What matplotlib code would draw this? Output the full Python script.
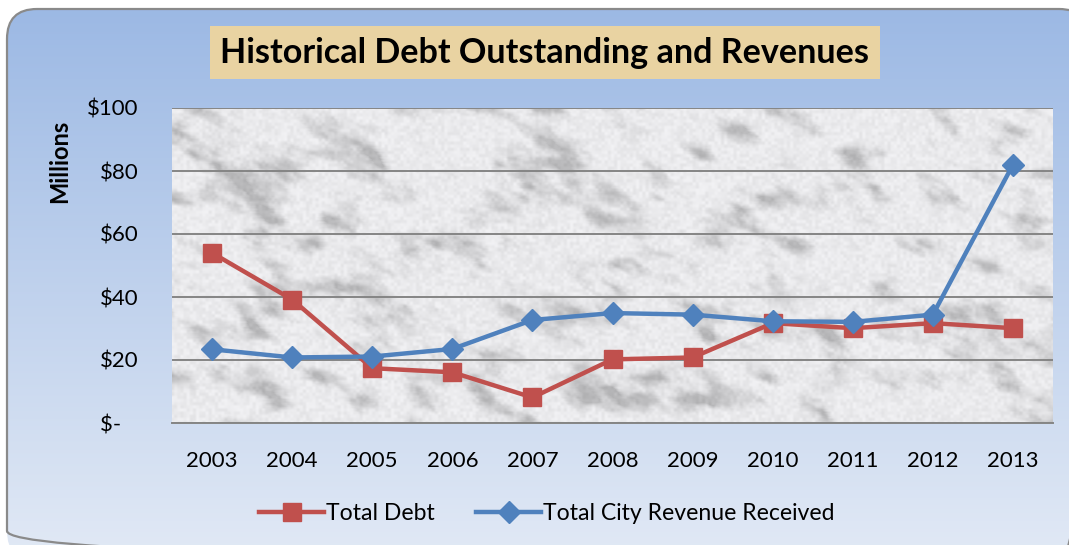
import numpy as np
import matplotlib.pyplot as plt
from matplotlib.patches import FancyBboxPatch, Rectangle

plt.rcParams['font.family'] = ['Lato', 'DejaVu Sans']

years = ['2003', '2004', '2005', '2006', '2007', '2008',
         '2009', '2010', '2011', '2012', '2013']
total_debt = [54.0, 39.2, 17.4, 16.1, 8.1, 20.2, 20.8, 31.7, 30.1, 31.7, 30.1]
city_revenue = [23.4, 20.8, 21.1, 23.5, 32.7, 34.9, 34.4, 32.3, 32.1, 34.4, 82.0]
y_ticks = [0, 20, 40, 60, 80, 100]
y_tick_labels = ['$-   ', '$20', '$40', '$60', '$80', '$100']

W, H = 1069, 545
fig = plt.figure(figsize=(W / 100, H / 100), dpi=100)

# full-figure axes in pixel units for the panel background
bg = fig.add_axes([0, 0, 1, 1])
bg.set_xlim(0, W)
bg.set_ylim(H, 0)
bg.axis('off')

panel = FancyBboxPatch((7, 9), 1082, 552, boxstyle='round,pad=0,rounding_size=30',
                       facecolor='none', edgecolor='#8a8a8a', lw=1.6, zorder=3)
bg.add_patch(panel)
grad = np.linspace(0, 1, 256)[:, None]
top = np.array([0.608, 0.722, 0.894])
bot = np.array([0.878, 0.910, 0.960])
img = top + (bot - top) * grad[..., None]
im = bg.imshow(np.repeat(img, 2, axis=1), extent=[0, W, H, 0], aspect='auto', zorder=1)
im.set_clip_path(panel)

# title plate
bg.add_patch(Rectangle((210, 26), 670, 53, facecolor='#e9d3a2', edgecolor='none', zorder=4))
bg.text(544, 53, 'Historical Debt Outstanding and Revenues', fontsize=24.6,
        fontweight='bold', ha='center', va='center', zorder=5)
bg.text(60, 161, 'Millions', fontsize=17, fontweight='bold', rotation=90,
        ha='center', va='center', zorder=5)


def smooth_noise(rng, shape, cells):
    ny, nx = shape
    gy, gx = cells
    coarse = rng.random((gy + 2, gx + 2))
    yy = np.linspace(0, gy, ny)
    xx = np.linspace(0, gx, nx)
    y0 = yy.astype(int)
    x0 = xx.astype(int)
    fy = (yy - y0)[:, None]
    fx = (xx - x0)[None, :]
    fy = fy * fy * (3 - 2 * fy)
    fx = fx * fx * (3 - 2 * fx)
    a = coarse[np.ix_(y0, x0)]
    b = coarse[np.ix_(y0, x0 + 1)]
    c = coarse[np.ix_(y0 + 1, x0)]
    d = coarse[np.ix_(y0 + 1, x0 + 1)]
    return (a * (1 - fx) + b * fx) * (1 - fy) + (c * (1 - fx) + d * fx) * fy


# mottled marble fill for the plot area, streaked on a diagonal
rng = np.random.default_rng(11)
th, tw = 315, 881
big_w = tw + th
turb = sum(smooth_noise(rng, (th, big_w), (14 * k, 40 * k)) / k for k in (1, 2, 4))
turb = (turb - turb.min()) / (turb.max() - turb.min())
rows = np.arange(th)[:, None]
cols = (np.arange(tw)[None, :] + (th - rows) * 0.7).astype(int)
sheared = turb[rows, cols]
blotch = np.clip((sheared - 0.45) * 2.6, 0, 1)
fine = smooth_noise(rng, (th, tw), (100, 280))
shade = 0.95 - 0.20 * blotch ** 1.6 - 0.06 * fine
marble = np.clip(np.dstack([shade, shade, shade * 1.01]), 0, 1)

ax = fig.add_axes([172 / W, 1 - 423 / H, 881 / W, 315 / H])
ax.patch.set_alpha(0)
ax.imshow(marble, extent=[-0.5, 10.5, 0, 100], aspect='auto', zorder=0)

x = np.arange(len(years))
ax.plot(x, total_debt, color='#c0504d', lw=3.2, marker='s', ms=12.5,
        label='Total Debt', zorder=3)
ax.plot(x, city_revenue, color='#4f81bd', lw=3.2, marker='D', ms=11,
        label='Total City Revenue Received', zorder=4)

ax.set_xlim(-0.5, 10.5)
ax.set_ylim(0, 100)
ax.set_xticks(x)
ax.set_xticklabels(years)
ax.set_yticks(y_ticks)
ax.set_yticklabels(y_tick_labels)
ax.grid(axis='y', color='#858585', lw=1.4, zorder=1)
ax.set_axisbelow(False)
for s in ['left', 'right', 'top']:
    ax.spines[s].set_visible(False)
ax.spines['bottom'].set_color('#858585')
ax.spines['bottom'].set_linewidth(1.4)
ax.tick_params(axis='both', length=0, labelsize=16)
ax.tick_params(axis='y', pad=24)
ax.tick_params(axis='x', pad=20)

leg = fig.legend(loc='center', bbox_to_anchor=(547 / W, 1 - 514 / H), ncol=2,
                 frameon=False, fontsize=16.6, handlelength=2.8, columnspacing=1.8,
                 handletextpad=0.1)

fig.savefig('out.png', dpi=100)
